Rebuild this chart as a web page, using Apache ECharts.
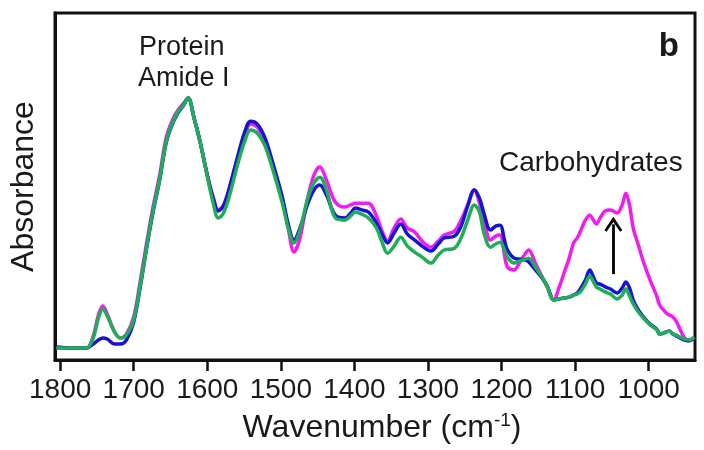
<!DOCTYPE html>
<html>
<head>
<meta charset="utf-8">
<script src="https://cdn.jsdelivr.net/npm/echarts@6/dist/echarts.min.js"></script>
<style>
  html, body { margin: 0; padding: 0; background: #fff; }
  #chart { width: 704px; height: 450px; }
</style>
</head>
<body>
<div id="chart"></div>
<script>
// wavenumber grid (cm-1)
const wavenumber = [1805, 1780, 1764, 1755, 1748, 1742, 1736, 1726, 1718, 1710,
  1700, 1690, 1682, 1674, 1665, 1656, 1648, 1640, 1633, 1626,
  1618, 1610, 1600, 1592, 1585, 1578, 1570, 1560, 1550, 1541,
  1532, 1522, 1512, 1498, 1490, 1482, 1474, 1464, 1455, 1447,
  1438, 1426, 1413, 1405, 1399, 1390, 1381, 1370, 1362, 1355,
  1346, 1337, 1328, 1318, 1308, 1296, 1286, 1278, 1264, 1255,
  1246, 1237, 1230, 1224, 1215, 1208, 1202, 1196, 1192, 1183,
  1175, 1168, 1163, 1154, 1146, 1138, 1129, 1122, 1115, 1108,
  1102, 1097, 1092, 1086, 1080, 1075, 1071, 1066, 1059, 1052,
  1043, 1036, 1031, 1026, 1021, 1014, 1007, 998, 989, 985,
  976, 972, 967, 962, 955, 951, 945, 938];

// absorbance, normalised to the amide I maximum
const magenta = [0.046, 0.046, 0.046, 0.092, 0.172, 0.206, 0.176, 0.107, 0.084, 0.099,
  0.164, 0.321, 0.454, 0.580, 0.702, 0.847, 0.912, 0.954, 0.977, 1.000,
  0.924, 0.836, 0.706, 0.622, 0.573, 0.592, 0.656, 0.760, 0.851, 0.901,
  0.889, 0.836, 0.756, 0.615, 0.504, 0.412, 0.466, 0.611, 0.706, 0.737,
  0.687, 0.603, 0.584, 0.592, 0.599, 0.599, 0.599, 0.550, 0.489, 0.454,
  0.504, 0.538, 0.504, 0.489, 0.454, 0.431, 0.454, 0.477, 0.492, 0.534,
  0.592, 0.649, 0.599, 0.534, 0.458, 0.473, 0.477, 0.401, 0.355, 0.344,
  0.374, 0.405, 0.420, 0.370, 0.324, 0.282, 0.229, 0.275, 0.332, 0.389,
  0.447, 0.466, 0.496, 0.534, 0.553, 0.534, 0.519, 0.542, 0.569, 0.573,
  0.561, 0.592, 0.637, 0.592, 0.504, 0.439, 0.374, 0.305, 0.244, 0.210,
  0.179, 0.172, 0.164, 0.145, 0.103, 0.084, 0.076, 0.084];

const blue = [0.050, 0.046, 0.046, 0.061, 0.076, 0.084, 0.080, 0.061, 0.061, 0.076,
  0.145, 0.298, 0.435, 0.561, 0.683, 0.828, 0.897, 0.943, 0.969, 1.000,
  0.924, 0.836, 0.706, 0.618, 0.569, 0.588, 0.656, 0.763, 0.863, 0.912,
  0.901, 0.851, 0.763, 0.622, 0.519, 0.458, 0.504, 0.592, 0.649, 0.668,
  0.630, 0.553, 0.542, 0.561, 0.580, 0.573, 0.565, 0.523, 0.477, 0.447,
  0.485, 0.519, 0.481, 0.458, 0.435, 0.416, 0.443, 0.466, 0.473, 0.511,
  0.588, 0.649, 0.618, 0.561, 0.496, 0.511, 0.515, 0.458, 0.420, 0.389,
  0.385, 0.382, 0.374, 0.344, 0.317, 0.282, 0.229, 0.233, 0.237, 0.240,
  0.248, 0.256, 0.275, 0.305, 0.344, 0.317, 0.294, 0.290, 0.279, 0.271,
  0.256, 0.275, 0.298, 0.275, 0.229, 0.191, 0.164, 0.137, 0.118, 0.099,
  0.107, 0.111, 0.099, 0.092, 0.080, 0.076, 0.073, 0.084];

const green = [0.046, 0.046, 0.046, 0.084, 0.160, 0.195, 0.168, 0.107, 0.084, 0.095,
  0.153, 0.305, 0.439, 0.565, 0.687, 0.832, 0.901, 0.947, 0.969, 1.000,
  0.924, 0.836, 0.702, 0.599, 0.542, 0.561, 0.626, 0.733, 0.828, 0.878,
  0.866, 0.821, 0.737, 0.599, 0.504, 0.447, 0.496, 0.611, 0.676, 0.698,
  0.649, 0.542, 0.534, 0.550, 0.565, 0.557, 0.542, 0.504, 0.447, 0.408,
  0.435, 0.469, 0.435, 0.412, 0.393, 0.370, 0.401, 0.420, 0.427, 0.466,
  0.534, 0.592, 0.565, 0.485, 0.431, 0.443, 0.450, 0.420, 0.393, 0.370,
  0.378, 0.385, 0.389, 0.355, 0.321, 0.282, 0.229, 0.233, 0.237, 0.240,
  0.248, 0.252, 0.263, 0.290, 0.321, 0.298, 0.279, 0.271, 0.260, 0.252,
  0.233, 0.248, 0.271, 0.244, 0.214, 0.183, 0.160, 0.134, 0.115, 0.099,
  0.107, 0.111, 0.099, 0.095, 0.084, 0.080, 0.076, 0.088];

const tickLabels = [1800, 1700, 1600, 1500, 1400, 1300, 1200, 1100, 1000];

// carbohydrate arrow, in data units [wavenumber, absorbance]
const arrowFrom = [1048, 0.328];
const arrowTo = [1048, 0.518];

const FONT = "'Liberation Sans', Arial, Helvetica, sans-serif";
const TEXT = '#1a1a1a';

function pairs(values) {
  return wavenumber.map((w, i) => [w, values[i]]);
}

function spectrum(name, values, color) {
  return {
    name: name,
    type: 'line',
    data: pairs(values),
    smooth: 0.35,
    showSymbol: false,
    lineStyle: { color: color, width: 3.5 },
    itemStyle: { color: color },
    silent: true,
    animation: false
  };
}

const chart = echarts.init(document.getElementById('chart'), null, { renderer: 'canvas' });

const series = [
  spectrum('Spectrum A', magenta, '#f21cf2'),
  spectrum('Spectrum B', blue, '#1414d2'),
  spectrum('Spectrum C', green, '#1fae55')
];

series[0].markLine = {
  silent: true,
  animation: false,
  symbol: ['none', 'path://M0,0 L7,10 L5.3,11.2 L0,3.8 L-5.3,11.2 L-7,10 Z'],
  symbolSize: [18, 15],
  label: { show: false },
  lineStyle: { color: '#000', width: 2.8, type: 'solid' },
  data: [[{ coord: arrowFrom }, { coord: arrowTo }]]
};

chart.setOption({
  backgroundColor: '#fff',
  animation: false,
  grid: {
    left: 52, right: 9, top: 13, bottom: 90,
    show: true, borderColor: '#111', borderWidth: 3, backgroundColor: 'transparent'
  },
  xAxis: {
    type: 'value',
    inverse: true,
    min: 937,
    max: 1807,
    name: 'Wavenumber (cm{sup|-1})',
    nameLocation: 'middle',
    nameGap: 51,
    nameTextStyle: {
      fontFamily: FONT, fontSize: 32, color: TEXT, padding: [0, 0, 0, 14],
      rich: { sup: { fontFamily: FONT, fontSize: 19, color: TEXT, padding: [0, 0, 15, 0] } }
    },
    axisLine: { show: true, lineStyle: { color: '#111', width: 3 } },
    axisTick: {
      show: true, inside: false, length: 11,
      customValues: tickLabels,
      lineStyle: { color: '#111', width: 2.5 }
    },
    axisLabel: {
      customValues: tickLabels,
      formatter: (v) => String(v),
      margin: 16,
      fontFamily: FONT, fontSize: 28, color: TEXT
    },
    splitLine: { show: false }
  },
  yAxis: {
    type: 'value',
    min: 0,
    max: 1.325,
    name: 'Absorbance',
    nameLocation: 'middle',
    nameGap: 15,
    nameTextStyle: { fontFamily: FONT, fontSize: 32, color: TEXT },
    axisLine: { show: true, lineStyle: { color: '#111', width: 3 } },
    axisTick: { show: false },
    axisLabel: { show: false },
    splitLine: { show: false }
  },
  graphic: [
    { type: 'text', left: 139, top: 34, style: { text: 'Protein', font: '27px ' + FONT, fill: TEXT } },
    { type: 'text', left: 138, top: 65, style: { text: 'Amide I', font: '27px ' + FONT, fill: TEXT } },
    { type: 'text', left: 499, top: 149, style: { text: 'Carbohydrates', font: '28px ' + FONT, fill: TEXT } },
    { type: 'text', right: 25, top: 30, style: { text: 'b', font: 'bold 33px ' + FONT, fill: TEXT } }
  ],
  series: series
});
</script>
</body>
</html>
